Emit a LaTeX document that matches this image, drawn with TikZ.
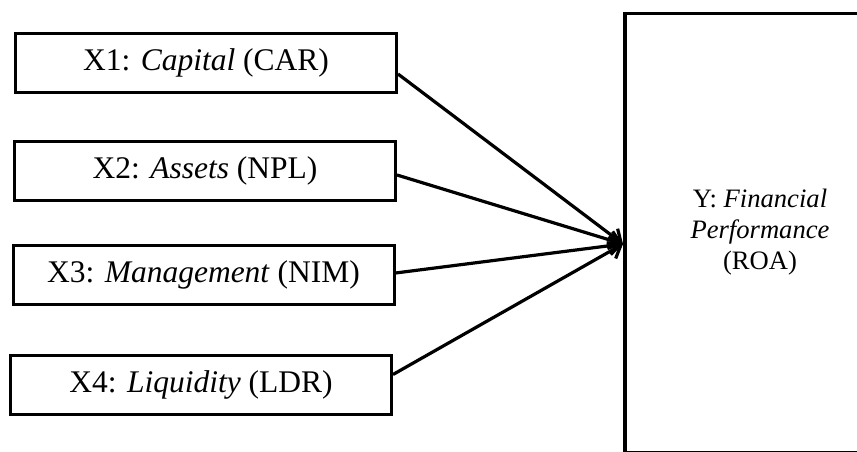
\documentclass[tikz,border=0pt]{standalone}
\usepackage{fontspec}
\setmainfont{Liberation Serif}
\usetikzlibrary{arrows.meta}
\begin{document}
\begin{tikzpicture}[x=1pt,y=-1pt,
  xbox/.style={draw,line width=3pt,minimum width=381pt,minimum height=59pt,inner sep=0pt,
    font=\fontsize{31.5}{36}\selectfont},
  conn/.style={line width=3.2pt,-{Straight Barb[length=11pt,width=18pt,line width=3.2pt]}}]
\clip (0,0) rectangle (857,452);
\node[xbox] (x1) at (206,63) {X1: \textit{Capital} (CAR)};
\node[xbox] (x2) at (205,171) {X2: \textit{Assets} (NPL)};
\node[xbox] (x3) at (203.5,275) {X3: \textit{Management} (NIM)};
\node[xbox] (x4) at (201,384.5) {X4: \textit{Liquidity} (LDR)};
\node[draw,line width=3.5pt,minimum width=250pt,minimum height=439pt,inner sep=0pt,anchor=north west] (y) at (623,12) {};
\node[align=center,font=\fontsize{26.6}{31}\selectfont] (yt) at (760,232) {Y: \textit{Financial}\\\textit{Performance}\\(ROA)};
\coordinate (tip) at (y.west |- 0,244);
\draw[conn] ([yshift=-11pt]x1.east) -- (tip);
\draw[conn] ([yshift=-4pt]x2.east) -- (tip);
\draw[conn] ([yshift=2pt]x3.east) -- (tip);
\draw[conn] ([yshift=10pt]x4.east) -- (tip);
\end{tikzpicture}
\end{document}
